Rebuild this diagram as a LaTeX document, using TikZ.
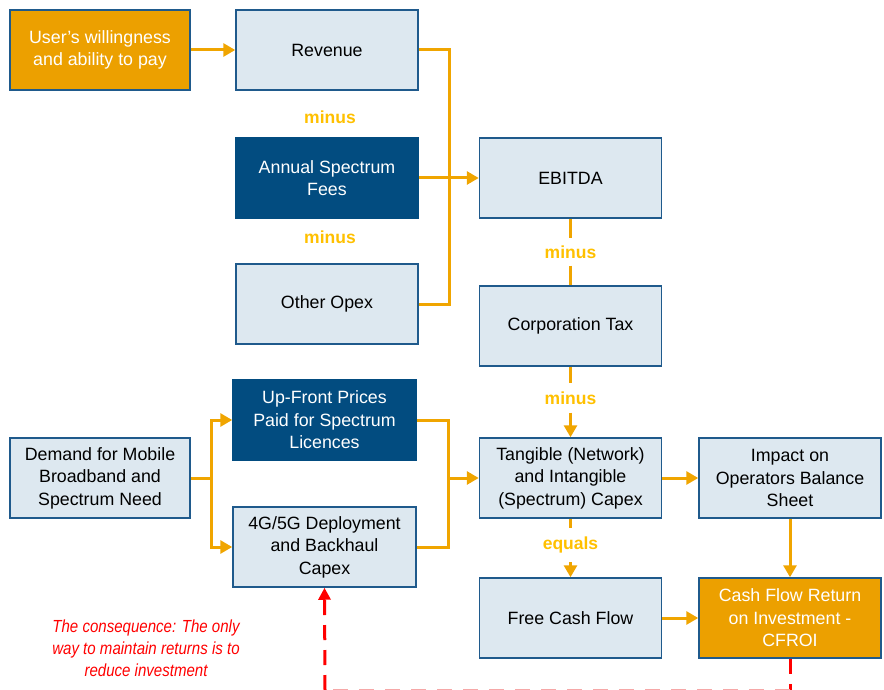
\documentclass[tikz,border=0pt]{standalone}
\usepackage{fontspec}
\setmainfont{Liberation Sans}
\newfontfamily\narrowfont[FakeStretch=0.86]{Liberation Sans}
\usetikzlibrary{arrows.meta}
\definecolor{bordc}{HTML}{1F5A8C}
\definecolor{lightc}{HTML}{DDE8F0}
\definecolor{darkc}{HTML}{024C80}
\definecolor{orangec}{HTML}{ECA000}
\definecolor{linec}{HTML}{F0A500}
\definecolor{lblc}{HTML}{FFC000}
\definecolor{redc}{HTML}{FF0000}
\definecolor{pinkc}{HTML}{F6A8A8}
\tikzset{
  box/.style={draw=bordc, line width=1.5pt, fill=lightc, minimum width=182pt, minimum height=80pt,
    align=center, text=black, inner sep=0pt, font=\fontsize{17.8}{22.5}\selectfont},
  darkbox/.style={box, draw=darkc, fill=darkc, text=white},
  orangebox/.style={box, fill=orangec, text=white},
  lbl/.style={text=lblc, font=\fontsize{17.5}{19}\selectfont\bfseries, inner sep=0pt},
  conn/.style={draw=linec, line width=3pt},
  arr/.style={conn, -{Triangle[length=12pt,width=13pt]}},
  redarr/.style={draw=redc, line width=3pt, dash pattern=on 15pt off 10pt, -{Triangle[length=12pt,width=12pt]}},
  redline/.style={draw=redc, line width=3pt, dash pattern=on 15pt off 10pt},
  note/.style={text=redc, align=center, font=\narrowfont\fontsize{17.5}{22}\selectfont\itshape, inner sep=0pt}
}
\begin{document}
\begin{tikzpicture}[x=1pt,y=-1pt]
\useasboundingbox (0,0) rectangle (884,690);
% column 1 top
\node[orangebox, minimum width=180pt] (user) at (100,50) {User's willingness\\and ability to pay};
\node[box] (rev) at (327,50) {Revenue};
\node[lbl] (m1) at (330,117) {minus};
\node[darkbox] (asf) at (327,178) {Annual Spectrum\\Fees};
\node[lbl] (m2) at (330,237) {minus};
\node[box] (opex) at (327,304) {Other Opex};
% column 2
\node[box] (ebitda) at (570.5,178) {EBITDA};
\node[lbl, minimum height=27pt] (m3) at (570.5,252) {minus};
\node[box] (corp) at (570.5,326) {Corporation Tax};
\node[lbl, minimum height=29pt] (m4) at (570.5,398) {minus};
\node[box] (tang) at (570.5,478) {Tangible (Network)\\and Intangible\\(Spectrum) Capex};
\node[lbl, minimum height=34pt] (m5) at (570.5,545) {equals};
\node[box] (fcf) at (570.5,618) {Free Cash Flow};
% column 3
\node[box] (impact) at (790,478) {Impact on\\Operators Balance\\Sheet};
\node[orangebox] (cfroi) at (790,618) {Cash Flow Return\\on Investment -\\CFROI};
% lower left
\node[box, minimum width=180pt] (demand) at (100,478) {Demand for Mobile\\Broadband and\\Spectrum Need};
\node[darkbox, minimum width=183pt] (upf) at (324.5,420) {Up-Front Prices\\Paid for Spectrum\\Licences};
\node[box, minimum width=183pt] (g45) at (324.5,547) {4G/5G Deployment\\and Backhaul\\Capex};
% note
\node[note] (cons) at (146,648) {The consequence: The only\\way to maintain returns is to\\reduce investment};
% coordinates
\coordinate (j1) at (449,178);
\coordinate (j2) at (211,478);
\coordinate (j3) at (448,478);
\coordinate (b1) at (790,690);
\coordinate (b2) at (325,690);
% connectors
\draw[arr] (user.east) -- (rev.west);
\draw[conn] (rev.east) -| (j1);
\draw[conn] (opex.east) -| (j1);
\draw[arr] (asf.east) -- (ebitda.west);
\draw[conn] (ebitda.south) -- (m3.north);
\draw[conn] (m3.south) -- (corp.north);
\draw[conn] (corp.south) -- (m4.north);
\draw[arr] (m4.south) -- (tang.north);
\draw[conn] (tang.south) -- (m5.north);
\draw[arr] (m5.south) -- (fcf.north);
\draw[arr] (tang.east) -- (impact.west);
\draw[arr] (impact.south) -- (cfroi.north);
\draw[arr] (fcf.east) -- (cfroi.west);
\draw[conn] (demand.east) -- (j2);
\draw[arr] (j2) |- (upf.west);
\draw[arr] (j2) |- (g45.west);
\draw[conn] (upf.east) -| (j3);
\draw[conn] (g45.east) -| (j3);
\draw[arr] (j3) -- (tang.west);
% red feedback
\draw[redline] (cfroi.south) -- (b1);
\draw[draw=pinkc, line width=1.5pt, dash pattern=on 15pt off 11pt] (b1) -- (b2);
\draw[redarr] (b2) -- (g45.south);
\end{tikzpicture}
\end{document}
